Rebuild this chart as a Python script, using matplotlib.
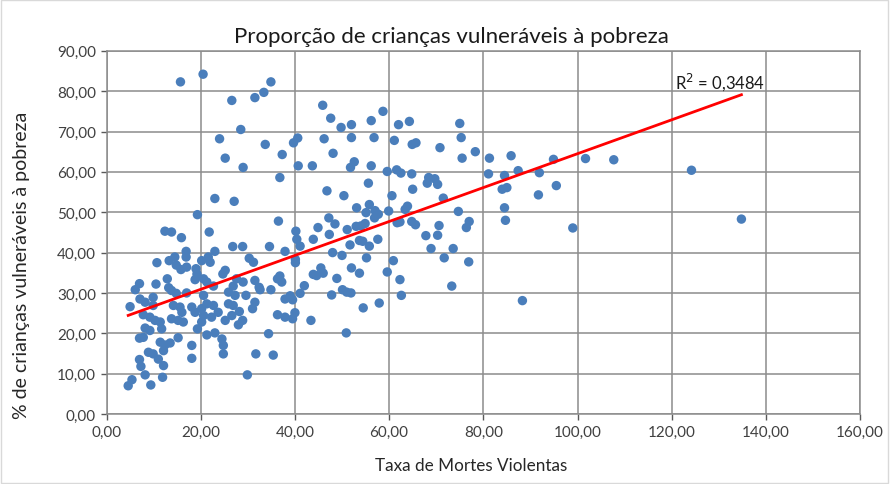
import matplotlib
matplotlib.use("Agg")
import matplotlib.pyplot as plt
from matplotlib.ticker import FuncFormatter, MultipleLocator
from matplotlib.patches import Rectangle
import numpy as np

plt.rcParams['font.family'] = ['Lato', 'DejaVu Sans']

# dados (Taxa de Mortes Violentas, % de crianças vulneráveis)
taxa_mortes = [
    15.7, 20.5, 34.9, 33.4, 31.5, 26.6, 28.5, 24.0, 33.7, 39.7, 40.6, 37.3, 25.2, 29.0, 40.7, 36.8, 23.0, 27.1,
    45.9, 47.6, 49.8, 52.0, 56.2, 58.7, 62.0, 46.2, 52.0, 56.8, 61.1, 48.1, 43.7, 52.6, 51.8, 56.2, 59.6, 61.6,
    62.5, 55.6, 46.8, 50.4, 60.6,
    64.3, 75.0, 75.3, 64.9, 65.7, 70.8, 78.3, 75.5, 81.3, 85.9, 64.8, 68.4, 69.7, 68.1, 70.3, 81.1, 84.5, 65.0,
    84.0, 85.0, 71.5,
    94.9, 101.7, 107.7, 87.4, 91.9, 95.5, 91.7, 84.7, 84.5, 99.0, 88.3, 124.2, 134.8,
    63.9, 63.4, 74.7, 62.3, 64.8, 65.6, 70.6, 77.0, 76.4, 67.8, 70.3, 68.9, 73.6, 71.7, 76.9, 62.3, 62.6, 73.3,
    53.1, 55.8, 55.1, 57.0, 57.7, 59.9, 56.9, 61.7, 47.2, 48.5, 44.9, 51.1, 53.0, 54.0, 54.9, 40.2, 40.4, 41.1,
    43.9, 47.3, 51.7, 53.7, 54.4, 55.8, 57.6, 40.1, 40.1, 48.0, 50.0, 55.2, 60.9, 59.6, 45.5, 46.0, 43.9, 44.6,
    52.0, 53.7, 48.9, 42.0, 41.1, 39.0, 50.1, 51.0, 51.9, 47.8, 57.9, 54.5, 39.5, 40.0, 39.5, 43.4, 50.9,
    19.3, 12.4, 13.8, 15.9, 21.8, 16.9, 16.9, 14.5, 13.3, 10.7, 14.8, 17.0, 15.8, 19.0, 19.2, 12.9, 18.8,
    7.0, 10.5, 13.2, 6.1, 14.8, 9.9, 17.0,
    5.0, 7.1, 8.2, 9.9, 13.8, 14.2, 15.6, 16.0, 18.1, 18.8, 20.2, 20.6, 7.8, 9.2, 10.3, 11.4, 13.8, 15.2,
    16.3, 19.3, 21.3, 8.2, 9.2, 11.7, 15.2, 7.0, 7.8, 11.4, 12.4, 13.5, 18.1, 12.1, 8.9, 9.9, 11.0, 18.1,
    7.0, 7.3, 12.1, 8.2, 11.9, 5.4, 4.6, 9.4,
    36.5, 26.8, 28.9, 34.6, 23.0, 37.9, 30.3, 31.2, 21.6, 20.2, 22.0, 25.2, 24.7, 20.6, 21.3, 22.7, 26.9,
    27.6, 29.0, 31.5, 32.4, 34.9, 36.3, 36.8, 37.2, 25.9, 29.6,
    20.6, 21.3, 22.7, 23.7, 22.3, 20.2, 25.2, 26.6, 25.9, 26.9, 27.3, 32.6, 31.5, 31.0, 28.2, 28.9, 28.0,
    37.9, 36.3, 37.9, 23.0, 24.5, 24.8, 24.8, 34.4, 31.7, 35.4, 29.9,
]
pct_criancas = [
    82.3, 84.2, 82.3, 79.7, 78.4, 77.7, 70.5, 68.2, 66.8, 67.2, 68.4, 64.3, 63.4, 61.1, 61.5, 58.6, 53.4, 52.7,
    76.5, 73.3, 71.0, 71.7, 72.7, 75.0, 71.7, 68.2, 68.5, 68.5, 67.8, 64.6, 61.5, 62.5, 61.1, 61.5, 60.1, 60.5,
    59.7, 57.2, 55.3, 54.1, 54.1,
    72.5, 72.0, 68.5, 66.8, 67.2, 66.0, 65.0, 63.4, 63.4, 64.0, 59.5, 58.6, 58.3, 57.2, 56.9, 59.5, 59.1, 55.7,
    55.7, 56.1, 53.5,
    63.1, 63.3, 63.0, 60.3, 59.8, 56.6, 54.3, 48.0, 51.1, 46.1, 28.1, 60.4, 48.3,
    51.5, 50.7, 50.2, 47.6, 47.7, 46.9, 46.7, 47.7, 46.2, 44.2, 44.3, 41.0, 41.0, 38.7, 37.7, 33.3, 29.4, 31.7,
    51.1, 51.9, 49.9, 50.4, 49.5, 50.3, 48.6, 47.4, 48.6, 47.1, 46.2, 45.7, 46.5, 46.6, 47.2, 45.3, 43.3, 41.6,
    43.3, 44.5, 41.9, 43.0, 42.8, 41.6, 43.3, 38.3, 37.5, 40.0, 39.3, 38.7, 38.0, 35.2, 36.2, 34.9, 34.6, 34.3,
    36.2, 34.9, 33.6, 31.8, 29.9, 29.3, 30.8, 30.2, 30.0, 29.5, 27.5, 26.3, 28.3, 25.1, 23.6, 23.2, 20.1,
    49.4, 45.3, 45.1, 43.7, 45.1, 40.3, 38.9, 38.9, 38.0, 37.5, 36.9, 36.4, 35.8, 36.0, 34.7, 33.5, 33.3,
    32.3, 32.2, 31.3, 30.8, 29.9, 28.9, 30.0,
    26.6, 28.5, 27.7, 26.9, 30.6, 26.9, 26.5, 25.2, 26.5, 25.2, 26.1, 24.4, 24.6, 24.0, 23.2, 22.8, 23.6, 23.2,
    22.8, 21.1, 19.6, 21.3, 20.7, 21.1, 18.9, 18.8, 19.0, 17.8, 17.1, 17.6, 17.0, 15.7, 15.3, 14.9, 13.6, 13.8,
    13.5, 11.8, 12.0, 9.7, 9.1, 8.5, 7.0, 7.2,
    47.8, 41.5, 41.5, 41.5, 40.3, 40.3, 38.6, 37.6, 38.9, 38.0, 37.6, 35.6, 34.7, 33.5, 32.7, 31.7, 31.7,
    33.5, 32.7, 33.1, 31.4, 30.8, 33.5, 34.2, 32.7, 30.2, 29.4,
    29.4, 27.3, 26.9, 25.2, 24.0, 22.8, 23.2, 24.4, 27.3, 26.9, 29.4, 30.8, 27.7, 26.1, 25.4, 23.2, 22.1,
    28.5, 24.6, 24.0, 20.1, 18.6, 17.0, 14.9, 19.9, 14.9, 14.6, 9.7,
]

# linha de tendência e R²
tendencia_coef = [0.42, 22.5]
r2_texto = "R$^2$ = 0,3484"

x = np.array(taxa_mortes)
y = np.array(pct_criancas)

fig = plt.figure(figsize=(8.9, 4.85), dpi=100)
ax = fig.add_axes([0.1197, 0.1443, 0.8467, 0.7489])

grid_cor = '#8c8c8c'
ax.grid(True, color=grid_cor, linewidth=1.1)
ax.set_axisbelow(True)
for s in ax.spines.values():
    s.set_color(grid_cor)
    s.set_linewidth(1.1)

ax.scatter(x, y, s=46, color='#4a7ebb', edgecolors='none', zorder=3)

xt = np.array([x.min(), x.max()])
ax.plot(xt, np.polyval(tendencia_coef, xt), color='#ff0000', linewidth=2, zorder=4)
ax.text(120.7, 82.6, r2_texto, fontsize=12, va='center', ha='left', color='#1a1a1a')

ax.set_xlim(0, 160)
ax.set_ylim(0, 90)
ax.xaxis.set_major_locator(MultipleLocator(20))
ax.yaxis.set_major_locator(MultipleLocator(10))
fmt = FuncFormatter(lambda v, p: f"{v:.2f}".replace('.', ','))
ax.xaxis.set_major_formatter(fmt)
ax.yaxis.set_major_formatter(fmt)
ax.tick_params(axis='both', labelsize=11, colors='#595959', labelcolor='#404040', length=4, width=1)

fig.text(0.507, 1 - 37 / 485, "Proporção de crianças vulneráveis à pobreza",
         fontsize=16, color='#1a1a1a', ha='center', va='center')
ax.set_xlabel("Taxa de Mortes Violentas", fontsize=12.3, color='#262626')
ax.xaxis.set_label_coords(0.484, -0.118)
ax.set_ylabel("% de crianças vulneráveis à pobreza", fontsize=14, color='#262626')
ax.yaxis.set_label_coords(-0.101, 0.413)

fig.patches.append(Rectangle((0.001, 0.002), 0.997, 0.996, transform=fig.transFigure,
                             fill=False, edgecolor='#d9d9d9', linewidth=1))

fig.savefig("out.png", dpi=100)
